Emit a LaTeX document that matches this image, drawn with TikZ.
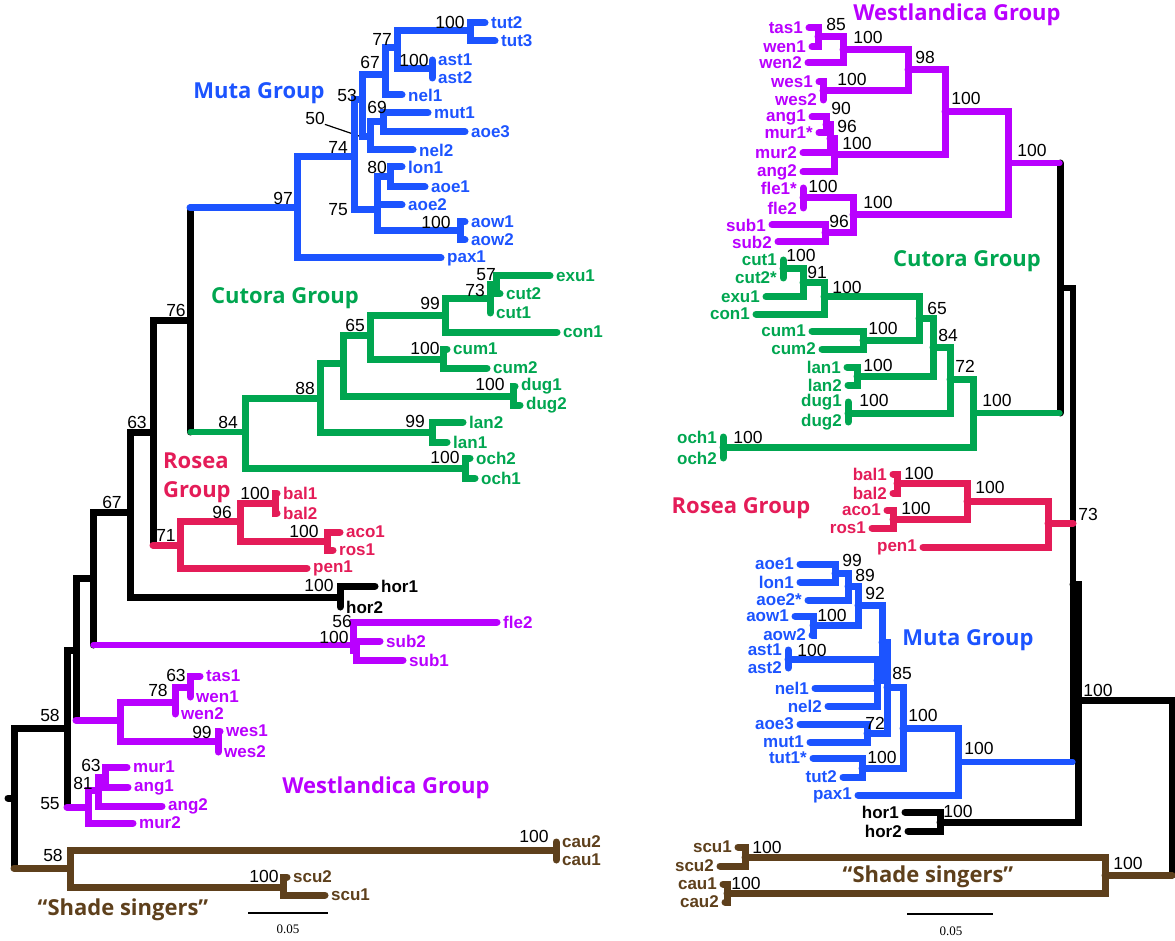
\documentclass[tikz,border=0pt]{standalone}
\usepackage{fontspec}
\setmainfont{Liberation Sans}
\newfontfamily\grpfont{Open Sans}
\newfontfamily\barfont{Liberation Serif}
\usepackage{tikz}
\usetikzlibrary{positioning}
\pgfdeclarelayer{background}
\pgfsetlayers{background,main}
\definecolor{mutablue}{RGB}{28,84,255}
\definecolor{cutgreen}{RGB}{0,166,80}
\definecolor{rosred}{RGB}{228,28,88}
\definecolor{westpurple}{RGB}{185,0,255}
\definecolor{shadebrown}{RGB}{94,64,28}

\begin{document}
\begin{tikzpicture}[
				x=1pt, y=-1pt,
				branch/.style={line width=7pt, line cap=round},
				thinbranch/.style={line width=5.2pt, line cap=round},
				tipname/.style={font=\fontsize{17}{17}\selectfont\bfseries, inner sep=1pt},
				boot/.style={font=\fontsize{17.5}{17.5}\selectfont, inner sep=0pt},
				grouplabel/.style={font=\grpfont\bfseries\fontsize{22}{22}\selectfont, inner sep=0pt},
				barlabel/.style={font=\barfont\fontsize{13}{13}\selectfont, inner sep=0pt},
				]
				\useasboundingbox (0,0) rectangle (1175,941);
				%Nodes - left tree, backbone
				\coordinate (L-root) at (8,798);
				\coordinate (L-n0) at (14,798);
				\coordinate (L-nA) at (67,728);
				\coordinate (L-nB) at (76,650);
				\coordinate (L-nC) at (93,578);
				\coordinate (L-nD) at (130,512);
				\coordinate (L-nE) at (153,432);
				\coordinate (L-nF) at (190,320);
				\node[boot] (L-nA-bs) at (50,715) {58};
				\node[boot] (L-nD-bs) at (112,502) {67};
				\node[boot] (L-nE-bs) at (137,422) {63};
				\node[boot] (L-nF-bs) at (176,310) {76};

				%Nodes - left tree, Muta
				\coordinate (L-m97) at (297,208);
				\coordinate (L-m74) at (354,157);
				\coordinate (L-m53) at (362,100);
				\coordinate (L-m67) at (385,75);
				\coordinate (L-m77) at (397,48);
				\coordinate (L-mtut) at (470,31);
				\coordinate (L-mast) at (432,69);
				\coordinate (L-m50) at (370,137);
				\coordinate (L-m69) at (383,122);
				\coordinate (L-m75) at (377,210);
				\coordinate (L-mlon) at (390,177);
				\coordinate (L-maow) at (460,231);
				\coordinate (L-tut2) at (485,23);
				\coordinate (L-tut3) at (495,41);
				\coordinate (L-ast1) at (432,60);
				\coordinate (L-ast2) at (432,78);
				\coordinate (L-nel1) at (402,95);
				\coordinate (L-mut1) at (428,113);
				\coordinate (L-aoe3) at (465,132);
				\coordinate (L-nel2) at (413,150);
				\coordinate (L-lon1) at (402,167);
				\coordinate (L-aoe1) at (425,187);
				\coordinate (L-aoe2) at (402,205);
				\coordinate (L-aow1) at (465,222);
				\coordinate (L-aow2) at (465,240);
				\coordinate (L-pax1) at (441,258);
				\node[tipname, mutablue, right=5pt of L-tut2] (L-tut2-lab) {tut2};
				\node[tipname, mutablue, right=5pt of L-tut3] (L-tut3-lab) {tut3};
				\node[tipname, mutablue, right=5pt of L-ast1] (L-ast1-lab) {ast1};
				\node[tipname, mutablue, right=5pt of L-ast2] (L-ast2-lab) {ast2};
				\node[tipname, mutablue, right=5pt of L-nel1] (L-nel1-lab) {nel1};
				\node[tipname, mutablue, right=5pt of L-mut1] (L-mut1-lab) {mut1};
				\node[tipname, mutablue, right=5pt of L-aoe3] (L-aoe3-lab) {aoe3};
				\node[tipname, mutablue, right=5pt of L-nel2] (L-nel2-lab) {nel2};
				\node[tipname, mutablue, right=5pt of L-lon1] (L-lon1-lab) {lon1};
				\node[tipname, mutablue, right=5pt of L-aoe1] (L-aoe1-lab) {aoe1};
				\node[tipname, mutablue, right=5pt of L-aoe2] (L-aoe2-lab) {aoe2};
				\node[tipname, mutablue, right=5pt of L-aow1] (L-aow1-lab) {aow1};
				\node[tipname, mutablue, right=5pt of L-aow2] (L-aow2-lab) {aow2};
				\node[tipname, mutablue, right=5pt of L-pax1] (L-pax1-lab) {pax1};
				\node[boot] (L-mtut-bs) at (450,22) {100};
				\node[boot] (L-m77-bs) at (382,39) {77};
				\node[boot] (L-mast-bs) at (414,60) {100};
				\node[boot] (L-m67-bs) at (370,62) {67};
				\node[boot] (L-m53-bs) at (347,95) {53};
				\node[boot] (L-m69-bs) at (377,107) {69};
				\node[boot] (L-m50-bs) at (315,118) {50};
				\node[boot] (L-m74-bs) at (338,147) {74};
				\node[boot] (L-mlon-bs) at (377,167) {80};
				\node[boot] (L-m97-bs) at (283,198) {97};
				\node[boot] (L-m75-bs) at (338,210) {75};
				\node[boot] (L-maow-bs) at (436,222) {100};
				\node[grouplabel, mutablue] (L-muta) at (259,93) {Muta Group};

				%Nodes - left tree, Cutora
				\coordinate (L-c84) at (245,432);
				\coordinate (L-c88) at (320,398);
				\coordinate (L-cN) at (343,363);
				\coordinate (L-c65) at (370,335);
				\coordinate (L-c99) at (445,315);
				\coordinate (L-c73) at (490,299);
				\coordinate (L-c57) at (496,285);
				\coordinate (L-ccum) at (443,359);
				\coordinate (L-cdug) at (513,396);
				\coordinate (L-clan) at (432,432);
				\coordinate (L-coch) at (465,468);
				\coordinate (L-exu1) at (550,276);
				\coordinate (L-cut2) at (500,294);
				\coordinate (L-cut1) at (490,313);
				\coordinate (L-con1) at (557,332);
				\coordinate (L-cum1) at (447,349);
				\coordinate (L-cum2) at (487,368);
				\coordinate (L-dug1) at (515,386);
				\coordinate (L-dug2) at (520,405);
				\coordinate (L-lan2) at (463,422);
				\coordinate (L-lan1) at (447,442);
				\coordinate (L-och2) at (470,458);
				\coordinate (L-och1) at (475,478);
				\node[tipname, cutgreen, right=5pt of L-exu1] (L-exu1-lab) {exu1};
				\node[tipname, cutgreen, right=5pt of L-cut2] (L-cut2-lab) {cut2};
				\node[tipname, cutgreen, right=5pt of L-cut1] (L-cut1-lab) {cut1};
				\node[tipname, cutgreen, right=5pt of L-con1] (L-con1-lab) {con1};
				\node[tipname, cutgreen, right=5pt of L-cum1] (L-cum1-lab) {cum1};
				\node[tipname, cutgreen, right=5pt of L-cum2] (L-cum2-lab) {cum2};
				\node[tipname, cutgreen, right=5pt of L-dug1] (L-dug1-lab) {dug1};
				\node[tipname, cutgreen, right=5pt of L-dug2] (L-dug2-lab) {dug2};
				\node[tipname, cutgreen, right=5pt of L-lan2] (L-lan2-lab) {lan2};
				\node[tipname, cutgreen, right=5pt of L-lan1] (L-lan1-lab) {lan1};
				\node[tipname, cutgreen, right=5pt of L-och2] (L-och2-lab) {och2};
				\node[tipname, cutgreen, right=5pt of L-och1] (L-och1-lab) {och1};
				\node[boot] (L-c84-bs) at (228,422) {84};
				\node[boot] (L-c88-bs) at (305,388) {88};
				\node[boot] (L-c65-bs) at (355,325) {65};
				\node[boot] (L-c99-bs) at (430,303) {99};
				\node[boot] (L-c73-bs) at (475,290) {73};
				\node[boot] (L-c57-bs) at (486,275) {57};
				\node[boot] (L-ccum-bs) at (425,348) {100};
				\node[boot] (L-cdug-bs) at (490,384) {100};
				\node[boot] (L-clan-bs) at (415,421) {99};
				\node[boot] (L-coch-bs) at (445,457) {100};
				\node[grouplabel, cutgreen] (L-cutora) at (285,298) {Cutora Group};

				%Nodes - left tree, Rosea
				\coordinate (L-r71) at (180,545);
				\coordinate (L-r96) at (240,521);
				\coordinate (L-rbal) at (275,503);
				\coordinate (L-raco) at (327,541);
				\coordinate (L-bal1) at (277,493);
				\coordinate (L-bal2) at (277,513);
				\coordinate (L-aco1) at (340,532);
				\coordinate (L-ros1) at (333,550);
				\coordinate (L-pen1) at (307,568);
				\node[tipname, rosred, right=5pt of L-bal1] (L-bal1-lab) {bal1};
				\node[tipname, rosred, right=5pt of L-bal2] (L-bal2-lab) {bal2};
				\node[tipname, rosred, right=5pt of L-aco1] (L-aco1-lab) {aco1};
				\node[tipname, rosred, right=5pt of L-ros1] (L-ros1-lab) {ros1};
				\node[tipname, rosred, right=5pt of L-pen1] (L-pen1-lab) {pen1};
				\node[boot] (L-r71-bs) at (166,535) {71};
				\node[boot] (L-r96-bs) at (222,512) {96};
				\node[boot] (L-rbal-bs) at (255,493) {100};
				\node[boot] (L-raco-bs) at (304,531) {100};
				\node[grouplabel, rosred, anchor=west] (L-rosea1) at (163,461) {Rosea};
				\node[grouplabel, rosred, anchor=west] (L-rosea2) at (163,492) {Group};

				%Nodes - left tree, hor
				\coordinate (L-hor) at (340,597);
				\coordinate (L-hor1) at (375,586);
				\coordinate (L-hor2) at (340,607);
				\node[tipname, right=5pt of L-hor1] (L-hor1-lab) {hor1};
				\node[tipname, right=5pt of L-hor2] (L-hor2-lab) {hor2};
				\node[boot] (L-hor-bs) at (319,585) {100};

				%Nodes - left tree, fle2 and sub
				\coordinate (L-s56) at (353,645);
				\coordinate (L-ssub) at (356,650);
				\coordinate (L-fle2) at (497,622);
				\coordinate (L-sub2) at (380,641);
				\coordinate (L-sub1) at (403,660);
				\node[tipname, westpurple, right=5pt of L-fle2] (L-fle2-lab) {fle2};
				\node[tipname, westpurple, right=5pt of L-sub2] (L-sub2-lab) {sub2};
				\node[tipname, westpurple, right=5pt of L-sub1] (L-sub1-lab) {sub1};
				\node[boot] (L-s56-bs) at (342,621) {56};
				\node[boot] (L-ssub-bs) at (334,637) {100};

				%Nodes - left tree, Westlandica
				\coordinate (L-wN) at (120,720);
				\coordinate (L-w78) at (175,702);
				\coordinate (L-w63) at (190,687);
				\coordinate (L-wwes) at (218,741);
				\coordinate (L-tas1) at (200,676);
				\coordinate (L-wen1) at (190,697);
				\coordinate (L-wen2) at (175,714);
				\coordinate (L-wes1) at (220,731);
				\coordinate (L-wes2) at (218,752);
				\coordinate (L-murN) at (88,807);
				\coordinate (L-m81) at (98,790);
				\coordinate (L-m63) at (105,777);
				\coordinate (L-mur1) at (127,767);
				\coordinate (L-ang1) at (128,787);
				\coordinate (L-ang2) at (162,806);
				\coordinate (L-mur2) at (133,823);
				\node[tipname, westpurple, right=5pt of L-tas1] (L-tas1-lab) {tas1};
				\node[tipname, westpurple, right=5pt of L-wen1] (L-wen1-lab) {wen1};
				\node[tipname, westpurple, right=5pt of L-wen2] (L-wen2-lab) {wen2};
				\node[tipname, westpurple, right=5pt of L-wes1] (L-wes1-lab) {wes1};
				\node[tipname, westpurple, right=5pt of L-wes2] (L-wes2-lab) {wes2};
				\node[tipname, westpurple, right=5pt of L-mur1] (L-mur1-lab) {mur1};
				\node[tipname, westpurple, right=5pt of L-ang1] (L-ang1-lab) {ang1};
				\node[tipname, westpurple, right=5pt of L-ang2] (L-ang2-lab) {ang2};
				\node[tipname, westpurple, right=5pt of L-mur2] (L-mur2-lab) {mur2};
				\node[boot] (L-w78-bs) at (158,690) {78};
				\node[boot] (L-w63-bs) at (176,675) {63};
				\node[boot] (L-wwes-bs) at (202,732) {99};
				\node[boot] (L-murN-bs) at (50,804) {55};
				\node[boot] (L-m81-bs) at (83,783) {81};
				\node[boot] (L-m63-bs) at (91,765) {63};
				\node[grouplabel, westpurple] (L-west) at (386,788) {Westlandica Group};

				%Nodes - left tree, shade singers
				\coordinate (L-brN) at (70,868);
				\coordinate (L-bcau) at (556,850);
				\coordinate (L-bscu) at (283,887);
				\coordinate (L-cau2) at (556,842);
				\coordinate (L-cau1) at (556,860);
				\coordinate (L-scu2) at (287,877);
				\coordinate (L-scu1) at (325,895);
				\node[tipname, shadebrown, right=5pt of L-cau2] (L-cau2-lab) {cau2};
				\node[tipname, shadebrown, right=5pt of L-cau1] (L-cau1-lab) {cau1};
				\node[tipname, shadebrown, right=5pt of L-scu2] (L-scu2-lab) {scu2};
				\node[tipname, shadebrown, right=5pt of L-scu1] (L-scu1-lab) {scu1};
				\node[boot] (L-brN-bs) at (53,855) {58};
				\node[boot] (L-bcau-bs) at (534,836) {100};
				\node[boot] (L-bscu-bs) at (264,876) {100};
				\node[grouplabel, shadebrown] (L-shade) at (123,910) {“Shade singers”};
				\coordinate (L-bar1) at (248,913);
				\coordinate (L-bar2) at (328,913);
				\node[barlabel] (L-bar-lab) at (288,929) {0.05};

				%Nodes - right tree, backbone
				\coordinate (R-n0) at (1172,788);
				\coordinate (R-Q) at (1078,700);
				\coordinate (R-P2) at (1073,584);
				\coordinate (R-P1) at (1073,405);
				\coordinate (R-WC) at (1060,288);
				\node[boot] (R-Q-bs) at (1098,690) {100};
				\node[boot] (R-rosR-bs) at (1088,514) {73};

				%Nodes - right tree, Westlandica
				\coordinate (R-westR) at (1008,163);
				\coordinate (R-w100b) at (945,112);
				\coordinate (R-w98) at (908,70);
				\coordinate (R-w100a) at (843,50);
				\coordinate (R-w85) at (818,37);
				\coordinate (R-wwes) at (823,91);
				\coordinate (R-wam) at (834,155);
				\coordinate (R-w96) at (830,139);
				\coordinate (R-w90) at (826,125);
				\coordinate (R-wfs) at (853,215);
				\coordinate (R-wfle) at (803,198);
				\coordinate (R-wsub) at (825,233);
				\coordinate (R-tas1) at (809,28);
				\coordinate (R-wen1) at (812,47);
				\coordinate (R-wen2) at (808,63);
				\coordinate (R-wes1) at (819,82);
				\coordinate (R-wes2) at (823,100);
				\coordinate (R-ang1) at (812,117);
				\coordinate (R-mur1) at (819,133);
				\coordinate (R-mur2) at (803,153);
				\coordinate (R-ang2) at (803,172);
				\coordinate (R-fle1) at (803,188);
				\coordinate (R-fle2) at (803,208);
				\coordinate (R-sub1) at (772,225);
				\coordinate (R-sub2) at (778,242);
				\node[tipname, westpurple, left=5pt of R-tas1] (R-tas1-lab) {tas1};
				\node[tipname, westpurple, left=5pt of R-wen1] (R-wen1-lab) {wen1};
				\node[tipname, westpurple, left=5pt of R-wen2] (R-wen2-lab) {wen2};
				\node[tipname, westpurple, left=5pt of R-wes1] (R-wes1-lab) {wes1};
				\node[tipname, westpurple, left=5pt of R-wes2] (R-wes2-lab) {wes2};
				\node[tipname, westpurple, left=5pt of R-ang1] (R-ang1-lab) {ang1};
				\node[tipname, westpurple, left=5pt of R-mur1] (R-mur1-lab) {mur1*};
				\node[tipname, westpurple, left=5pt of R-mur2] (R-mur2-lab) {mur2};
				\node[tipname, westpurple, left=5pt of R-ang2] (R-ang2-lab) {ang2};
				\node[tipname, westpurple, left=5pt of R-fle1] (R-fle1-lab) {fle1*};
				\node[tipname, westpurple, left=5pt of R-fle2] (R-fle2-lab) {fle2};
				\node[tipname, westpurple, left=5pt of R-sub1] (R-sub1-lab) {sub1};
				\node[tipname, westpurple, left=5pt of R-sub2] (R-sub2-lab) {sub2};
				\node[boot] (R-w85-bs) at (836,24) {85};
				\node[boot] (R-w100a-bs) at (868,37) {100};
				\node[boot] (R-w98-bs) at (925,57) {98};
				\node[boot] (R-wwes-bs) at (852,79) {100};
				\node[boot] (R-w90-bs) at (841,108) {90};
				\node[boot] (R-w96-bs) at (847,126) {96};
				\node[boot] (R-wam-bs) at (857,143) {100};
				\node[boot] (R-w100b-bs) at (966,98) {100};
				\node[boot] (R-wfle-bs) at (823,186) {100};
				\node[boot] (R-wfs-bs) at (878,202) {100};
				\node[boot] (R-wsub-bs) at (839,221) {96};
				\node[boot] (R-westR-bs) at (1032,150) {100};
				\node[grouplabel, westpurple] (R-west) at (957,15) {Westlandica Group};

				%Nodes - right tree, Cutora
				\coordinate (R-cutR) at (973,413);
				\coordinate (R-c72) at (950,379);
				\coordinate (R-c84) at (933,347);
				\coordinate (R-c65) at (919,318);
				\coordinate (R-c100) at (824,297);
				\coordinate (R-c91) at (803,283);
				\coordinate (R-ccut) at (783,269);
				\coordinate (R-ccum) at (863,340);
				\coordinate (R-clan) at (857,376);
				\coordinate (R-cdug) at (848,413);
				\coordinate (R-coch) at (723,447);
				\coordinate (R-cut1) at (783,260);
				\coordinate (R-cut2) at (783,278);
				\coordinate (R-exu1) at (766,297);
				\coordinate (R-con1) at (756,314);
				\coordinate (R-cum1) at (812,331);
				\coordinate (R-cum2) at (822,349);
				\coordinate (R-lan1) at (847,367);
				\coordinate (R-lan2) at (848,385);
				\coordinate (R-dug1) at (848,402);
				\coordinate (R-dug2) at (848,422);
				\coordinate (R-och1) at (723,437);
				\coordinate (R-och2) at (723,458);
				\node[tipname, cutgreen, left=5pt of R-cut1] (R-cut1-lab) {cut1};
				\node[tipname, cutgreen, left=5pt of R-cut2] (R-cut2-lab) {cut2*};
				\node[tipname, cutgreen, left=5pt of R-exu1] (R-exu1-lab) {exu1};
				\node[tipname, cutgreen, left=5pt of R-con1] (R-con1-lab) {con1};
				\node[tipname, cutgreen, left=5pt of R-cum1] (R-cum1-lab) {cum1};
				\node[tipname, cutgreen, left=5pt of R-cum2] (R-cum2-lab) {cum2};
				\node[tipname, cutgreen, left=5pt of R-lan1] (R-lan1-lab) {lan1};
				\node[tipname, cutgreen, left=5pt of R-lan2] (R-lan2-lab) {lan2};
				\node[tipname, cutgreen, left=5pt of R-dug1] (R-dug1-lab) {dug1};
				\node[tipname, cutgreen, left=5pt of R-dug2] (R-dug2-lab) {dug2};
				\node[tipname, cutgreen, left=5pt of R-och1] (R-och1-lab) {och1};
				\node[tipname, cutgreen, left=5pt of R-och2] (R-och2-lab) {och2};
				\node[boot] (R-ccut-bs) at (801,255) {100};
				\node[boot] (R-c91-bs) at (817,272) {91};
				\node[boot] (R-c100-bs) at (847,287) {100};
				\node[boot] (R-c65-bs) at (937,308) {65};
				\node[boot] (R-ccum-bs) at (883,328) {100};
				\node[boot] (R-c84-bs) at (948,335) {84};
				\node[boot] (R-clan-bs) at (878,365) {100};
				\node[boot] (R-c72-bs) at (965,366) {72};
				\node[boot] (R-cdug-bs) at (874,400) {100};
				\node[boot] (R-cutR-bs) at (997,400) {100};
				\node[boot] (R-coch-bs) at (748,437) {100};
				\node[grouplabel, cutgreen] (R-cutora) at (967,261) {Cutora Group};

				%Nodes - right tree, Rosea
				\coordinate (R-rosR) at (1048,523);
				\coordinate (R-rN) at (967,501);
				\coordinate (R-rbal) at (897,483);
				\coordinate (R-raco) at (893,519);
				\coordinate (R-bal1) at (893,474);
				\coordinate (R-bal2) at (893,493);
				\coordinate (R-aco1) at (887,510);
				\coordinate (R-ros1) at (872,528);
				\coordinate (R-pen1) at (923,547);
				\node[tipname, rosred, left=5pt of R-bal1] (R-bal1-lab) {bal1};
				\node[tipname, rosred, left=5pt of R-bal2] (R-bal2-lab) {bal2};
				\node[tipname, rosred, left=5pt of R-aco1] (R-aco1-lab) {aco1};
				\node[tipname, rosred, left=5pt of R-ros1] (R-ros1-lab) {ros1};
				\node[tipname, rosred, left=5pt of R-pen1] (R-pen1-lab) {pen1};
				\node[boot] (R-rbal-bs) at (919,473) {100};
				\node[boot] (R-raco-bs) at (916,508) {100};
				\node[boot] (R-rN-bs) at (990,487) {100};
				\node[grouplabel, rosred] (R-rosea) at (741,508) {Rosea Group};

				%Nodes - right tree, Muta
				\coordinate (R-muR) at (958,762);
				\coordinate (R-m100a) at (903,728);
				\coordinate (R-mtut) at (862,768);
				\coordinate (R-m85) at (887,687);
				\coordinate (R-mNa) at (882,642);
				\coordinate (R-m72) at (867,733);
				\coordinate (R-m92) at (858,605);
				\coordinate (R-masn) at (877,680);
				\coordinate (R-m89) at (848,586);
				\coordinate (R-maow) at (813,625);
				\coordinate (R-m99) at (835,573);
				\coordinate (R-mast) at (788,659);
				\coordinate (R-aoe1) at (800,564);
				\coordinate (R-lon1) at (800,582);
				\coordinate (R-aoe2) at (808,600);
				\coordinate (R-aow1) at (795,616);
				\coordinate (R-aow2) at (812,635);
				\coordinate (R-ast1) at (788,650);
				\coordinate (R-ast2) at (788,668);
				\coordinate (R-nel1) at (815,688);
				\coordinate (R-nel2) at (828,706);
				\coordinate (R-aoe3) at (800,724);
				\coordinate (R-mut1) at (810,742);
				\coordinate (R-tut1) at (813,758);
				\coordinate (R-tut2) at (843,777);
				\coordinate (R-pax1) at (858,795);
				\node[tipname, mutablue, left=5pt of R-aoe1] (R-aoe1-lab) {aoe1};
				\node[tipname, mutablue, left=5pt of R-lon1] (R-lon1-lab) {lon1};
				\node[tipname, mutablue, left=5pt of R-aoe2] (R-aoe2-lab) {aoe2*};
				\node[tipname, mutablue, left=5pt of R-aow1] (R-aow1-lab) {aow1};
				\node[tipname, mutablue, left=5pt of R-aow2] (R-aow2-lab) {aow2};
				\node[tipname, mutablue, left=5pt of R-ast1] (R-ast1-lab) {ast1};
				\node[tipname, mutablue, left=5pt of R-ast2] (R-ast2-lab) {ast2};
				\node[tipname, mutablue, left=5pt of R-nel1] (R-nel1-lab) {nel1};
				\node[tipname, mutablue, left=5pt of R-nel2] (R-nel2-lab) {nel2};
				\node[tipname, mutablue, left=5pt of R-aoe3] (R-aoe3-lab) {aoe3};
				\node[tipname, mutablue, left=5pt of R-mut1] (R-mut1-lab) {mut1};
				\node[tipname, mutablue, left=5pt of R-tut1] (R-tut1-lab) {tut1*};
				\node[tipname, mutablue, left=5pt of R-tut2] (R-tut2-lab) {tut2};
				\node[tipname, mutablue, left=5pt of R-pax1] (R-pax1-lab) {pax1};
				\node[boot] (R-m99-bs) at (852,560) {99};
				\node[boot] (R-m89-bs) at (865,575) {89};
				\node[boot] (R-m92-bs) at (875,593) {92};
				\node[boot] (R-maow-bs) at (832,615) {100};
				\node[boot] (R-mast-bs) at (812,650) {100};
				\node[boot] (R-m72-bs) at (875,723) {72};
				\node[boot] (R-m85-bs) at (902,673) {85};
				\node[boot] (R-m100a-bs) at (923,715) {100};
				\node[boot] (R-mtut-bs) at (882,757) {100};
				\node[boot] (R-muR-bs) at (979,748) {100};
				\node[grouplabel, mutablue] (R-muta) at (968,640) {Muta Group};

				%Nodes - right tree, hor and shade singers
				\coordinate (R-horR) at (940,822);
				\coordinate (R-hor1) at (905,812);
				\coordinate (R-hor2) at (908,831);
				\node[tipname, left=5pt of R-hor1] (R-hor1-lab) {hor1};
				\node[tipname, left=5pt of R-hor2] (R-hor2-lab) {hor2};
				\node[boot] (R-horR-bs) at (958,811) {100};
				\coordinate (R-brN) at (1105,875);
				\coordinate (R-bscu) at (745,857);
				\coordinate (R-bcau) at (727,893);
				\coordinate (R-scu1) at (738,847);
				\coordinate (R-scu2) at (720,866);
				\coordinate (R-cau1) at (723,884);
				\coordinate (R-cau2) at (725,902);
				\node[tipname, shadebrown, left=5pt of R-scu1] (R-scu1-lab) {scu1};
				\node[tipname, shadebrown, left=5pt of R-scu2] (R-scu2-lab) {scu2};
				\node[tipname, shadebrown, left=5pt of R-cau1] (R-cau1-lab) {cau1};
				\node[tipname, shadebrown, left=5pt of R-cau2] (R-cau2-lab) {cau2};
				\node[boot] (R-bscu-bs) at (767,847) {100};
				\node[boot] (R-bcau-bs) at (746,883) {100};
				\node[boot] (R-brN-bs) at (1128,863) {100};
				\node[grouplabel, shadebrown] (R-shade) at (928,877) {“Shade singers”};
				\coordinate (R-bar1) at (907,914);
				\coordinate (R-bar2) at (993,914);
				\node[barlabel] (R-bar-lab) at (951,931) {0.05};

				\begin{pgfonlayer}{background}
				%Lines - left backbone
				\draw[branch] (L-root) -- (L-n0);
				\draw[branch] (L-n0) |- (L-nA);
				\draw[branch] (L-n0) -- (L-n0 |- L-brN);
				\draw[branch] (L-nA) |- (L-nB);
				\draw[branch] (L-nA) -- (L-nA |- L-murN);
				\draw[branch] (L-nB) |- (L-nC);
				\draw[branch] (L-nB) -- (L-nB |- L-wN);
				\draw[branch] (L-nC) |- (L-nD);
				\draw[branch] (L-nC) -- (L-nC |- L-s56);
				\draw[branch] (L-nD) |- (L-nE);
				\draw[branch] (L-nD) |- (L-hor);
				\draw[branch] (L-nE) |- (L-nF);
				\draw[branch] (L-nE) -- (L-nE |- L-r71);
				\draw[branch] (L-nF) -- (L-nF |- L-m97);
				\draw[branch] (L-nF) -- (L-nF |- L-c84);
				\draw[branch, shadebrown] (L-n0 |- L-brN) -- (L-brN);
				\draw[branch, westpurple] (L-nA |- L-murN) -- (L-murN);
				\draw[branch, westpurple] (L-nB |- L-wN) -- (L-wN);
				\draw[thinbranch, westpurple] (L-nC |- L-s56) -- (L-s56);
				\draw[branch, rosred] (L-nE |- L-r71) -- (L-r71);
				\draw[branch, mutablue] (L-nF |- L-m97) -- (L-m97);
				\draw[thinbranch, cutgreen] (L-nF |- L-c84) -- (L-c84);
				\draw[line width=1.2pt] (L-m50-bs.south east) -- (L-m53 |- L-m50);

				%Lines - left Muta
				\draw[branch, mutablue] (L-m97) |- (L-m74);
				\draw[branch, mutablue] (L-m97) |- (L-pax1);
				\draw[branch, mutablue] (L-m74) |- (L-m53);
				\draw[branch, mutablue] (L-m74) |- (L-m75);
				\draw[branch, mutablue] (L-m53) |- (L-m67);
				\draw[branch, mutablue] (L-m53) |- (L-m50);
				\draw[branch, mutablue] (L-m67) |- (L-m77);
				\draw[branch, mutablue] (L-m67) |- (L-nel1);
				\draw[branch, mutablue] (L-m77) |- (L-mtut);
				\draw[branch, mutablue] (L-m77) |- (L-mast);
				\draw[branch, mutablue] (L-mtut) |- (L-tut2);
				\draw[branch, mutablue] (L-mtut) |- (L-tut3);
				\draw[branch, mutablue] (L-mast) |- (L-ast1);
				\draw[branch, mutablue] (L-mast) |- (L-ast2);
				\draw[branch, mutablue] (L-m50) |- (L-m69);
				\draw[branch, mutablue] (L-m50) |- (L-nel2);
				\draw[branch, mutablue] (L-m69) |- (L-mut1);
				\draw[branch, mutablue] (L-m69) |- (L-aoe3);
				\draw[branch, mutablue] (L-m75) |- (L-mlon);
				\draw[branch, mutablue] (L-m75) |- (L-aoe2);
				\draw[branch, mutablue] (L-m75) |- (L-maow);
				\draw[branch, mutablue] (L-mlon) |- (L-lon1);
				\draw[branch, mutablue] (L-mlon) |- (L-aoe1);
				\draw[branch, mutablue] (L-maow) |- (L-aow1);
				\draw[branch, mutablue] (L-maow) |- (L-aow2);

				%Lines - left Cutora
				\draw[branch, cutgreen] (L-c84) |- (L-c88);
				\draw[branch, cutgreen] (L-c84) |- (L-coch);
				\draw[branch, cutgreen] (L-c88) |- (L-cN);
				\draw[branch, cutgreen] (L-c88) |- (L-clan);
				\draw[branch, cutgreen] (L-cN) |- (L-c65);
				\draw[branch, cutgreen] (L-cN) |- (L-cdug);
				\draw[branch, cutgreen] (L-c65) |- (L-c99);
				\draw[branch, cutgreen] (L-c65) |- (L-ccum);
				\draw[branch, cutgreen] (L-c99) |- (L-c73);
				\draw[branch, cutgreen] (L-c99) |- (L-con1);
				\draw[branch, cutgreen] (L-c73) |- (L-c57);
				\draw[branch, cutgreen] (L-c73) |- (L-cut1);
				\draw[branch, cutgreen] (L-c57) |- (L-exu1);
				\draw[branch, cutgreen] (L-c57) |- (L-cut2);
				\draw[branch, cutgreen] (L-ccum) |- (L-cum1);
				\draw[branch, cutgreen] (L-ccum) |- (L-cum2);
				\draw[branch, cutgreen] (L-cdug) |- (L-dug1);
				\draw[branch, cutgreen] (L-cdug) |- (L-dug2);
				\draw[branch, cutgreen] (L-clan) |- (L-lan2);
				\draw[branch, cutgreen] (L-clan) |- (L-lan1);
				\draw[branch, cutgreen] (L-coch) |- (L-och2);
				\draw[branch, cutgreen] (L-coch) |- (L-och1);

				%Lines - left Rosea, hor, sub
				\draw[branch, rosred] (L-r71) |- (L-r96);
				\draw[branch, rosred] (L-r71) |- (L-pen1);
				\draw[branch, rosred] (L-r96) |- (L-rbal);
				\draw[branch, rosred] (L-r96) |- (L-raco);
				\draw[branch, rosred] (L-rbal) |- (L-bal1);
				\draw[branch, rosred] (L-rbal) |- (L-bal2);
				\draw[branch, rosred] (L-raco) |- (L-aco1);
				\draw[branch, rosred] (L-raco) |- (L-ros1);
				\draw[branch] (L-hor) |- (L-hor1);
				\draw[branch] (L-hor) |- (L-hor2);
				\draw[branch, westpurple] (L-s56) |- (L-fle2);
				\draw[branch, westpurple] (L-s56) |- (L-ssub);
				\draw[branch, westpurple] (L-ssub) |- (L-sub2);
				\draw[branch, westpurple] (L-ssub) |- (L-sub1);

				%Lines - left Westlandica and shade singers
				\draw[branch, westpurple] (L-wN) |- (L-w78);
				\draw[branch, westpurple] (L-wN) |- (L-wwes);
				\draw[branch, westpurple] (L-w78) |- (L-w63);
				\draw[branch, westpurple] (L-w78) |- (L-wen2);
				\draw[branch, westpurple] (L-w63) |- (L-tas1);
				\draw[branch, westpurple] (L-w63) |- (L-wen1);
				\draw[branch, westpurple] (L-wwes) |- (L-wes1);
				\draw[branch, westpurple] (L-wwes) |- (L-wes2);
				\draw[branch, westpurple] (L-murN) |- (L-m81);
				\draw[branch, westpurple] (L-murN) |- (L-mur2);
				\draw[branch, westpurple] (L-m81) |- (L-m63);
				\draw[branch, westpurple] (L-m81) |- (L-ang2);
				\draw[branch, westpurple] (L-m63) |- (L-mur1);
				\draw[branch, westpurple] (L-m63) |- (L-ang1);
				\draw[branch, shadebrown] (L-brN) |- (L-bcau);
				\draw[branch, shadebrown] (L-brN) |- (L-bscu);
				\draw[branch, shadebrown] (L-bcau) |- (L-cau2);
				\draw[branch, shadebrown] (L-bcau) |- (L-cau1);
				\draw[branch, shadebrown] (L-bscu) |- (L-scu2);
				\draw[branch, shadebrown] (L-bscu) |- (L-scu1);
				\draw[line width=2pt] (L-bar1) -- (L-bar2);

				%Lines - right backbone
				\draw[branch] (R-n0) |- (R-Q);
				\draw[branch] (R-n0) -- (R-n0 |- R-brN);
				\draw[branch] (R-Q) |- (R-P2);
				\draw[branch] (R-Q) |- (R-horR);
				\draw[thinbranch] (R-P2) |- (R-P1);
				\draw[thinbranch] (R-P2) -- (R-P2 |- R-muR);
				\draw[thinbranch] (R-P1) |- (R-WC);
				\draw[thinbranch] (R-P1) -- (R-P1 |- R-rosR);
				\draw[branch] (R-WC) -- (R-WC |- R-westR);
				\draw[branch] (R-WC) -- (R-WC |- R-cutR);
				\draw[branch, shadebrown] (R-n0 |- R-brN) -- (R-brN);
				\draw[thinbranch, mutablue] (R-P2 |- R-muR) -- (R-muR);
				\draw[branch, rosred] (R-P1 |- R-rosR) -- (R-rosR);
				\draw[thinbranch, westpurple] (R-WC |- R-westR) -- (R-westR);
				\draw[thinbranch, cutgreen] (R-WC |- R-cutR) -- (R-cutR);

				%Lines - right Westlandica
				\draw[branch, westpurple] (R-westR) |- (R-w100b);
				\draw[branch, westpurple] (R-westR) |- (R-wfs);
				\draw[branch, westpurple] (R-w100b) |- (R-w98);
				\draw[branch, westpurple] (R-w100b) |- (R-wam);
				\draw[branch, westpurple] (R-w98) |- (R-w100a);
				\draw[branch, westpurple] (R-w98) |- (R-wwes);
				\draw[branch, westpurple] (R-w100a) |- (R-w85);
				\draw[branch, westpurple] (R-w100a) |- (R-wen2);
				\draw[branch, westpurple] (R-w85) |- (R-tas1);
				\draw[branch, westpurple] (R-w85) |- (R-wen1);
				\draw[branch, westpurple] (R-wwes) |- (R-wes1);
				\draw[branch, westpurple] (R-wwes) |- (R-wes2);
				\draw[branch, westpurple] (R-wam) |- (R-w96);
				\draw[branch, westpurple] (R-wam) |- (R-ang2);
				\draw[branch, westpurple] (R-w96) |- (R-w90);
				\draw[branch, westpurple] (R-w96) |- (R-mur2);
				\draw[branch, westpurple] (R-w90) |- (R-ang1);
				\draw[branch, westpurple] (R-w90) |- (R-mur1);
				\draw[branch, westpurple] (R-wfs) |- (R-wfle);
				\draw[branch, westpurple] (R-wfs) |- (R-wsub);
				\draw[branch, westpurple] (R-wfle) |- (R-fle1);
				\draw[branch, westpurple] (R-wfle) |- (R-fle2);
				\draw[branch, westpurple] (R-wsub) |- (R-sub1);
				\draw[branch, westpurple] (R-wsub) |- (R-sub2);

				%Lines - right Cutora
				\draw[branch, cutgreen] (R-cutR) |- (R-c72);
				\draw[branch, cutgreen] (R-cutR) |- (R-coch);
				\draw[branch, cutgreen] (R-c72) |- (R-c84);
				\draw[branch, cutgreen] (R-c72) |- (R-cdug);
				\draw[branch, cutgreen] (R-c84) |- (R-c65);
				\draw[branch, cutgreen] (R-c84) |- (R-clan);
				\draw[branch, cutgreen] (R-c65) |- (R-c100);
				\draw[branch, cutgreen] (R-c65) |- (R-ccum);
				\draw[branch, cutgreen] (R-c100) |- (R-c91);
				\draw[branch, cutgreen] (R-c100) |- (R-con1);
				\draw[branch, cutgreen] (R-c91) |- (R-ccut);
				\draw[branch, cutgreen] (R-c91) |- (R-exu1);
				\draw[branch, cutgreen] (R-ccut) |- (R-cut1);
				\draw[branch, cutgreen] (R-ccut) |- (R-cut2);
				\draw[branch, cutgreen] (R-ccum) |- (R-cum1);
				\draw[branch, cutgreen] (R-ccum) |- (R-cum2);
				\draw[branch, cutgreen] (R-clan) |- (R-lan1);
				\draw[branch, cutgreen] (R-clan) |- (R-lan2);
				\draw[branch, cutgreen] (R-cdug) |- (R-dug1);
				\draw[branch, cutgreen] (R-cdug) |- (R-dug2);
				\draw[branch, cutgreen] (R-coch) |- (R-och1);
				\draw[branch, cutgreen] (R-coch) |- (R-och2);

				%Lines - right Rosea
				\draw[branch, rosred] (R-rosR) |- (R-rN);
				\draw[branch, rosred] (R-rosR) |- (R-pen1);
				\draw[branch, rosred] (R-rN) |- (R-rbal);
				\draw[branch, rosred] (R-rN) |- (R-raco);
				\draw[branch, rosred] (R-rbal) |- (R-bal1);
				\draw[branch, rosred] (R-rbal) |- (R-bal2);
				\draw[branch, rosred] (R-raco) |- (R-aco1);
				\draw[branch, rosred] (R-raco) |- (R-ros1);

				%Lines - right Muta
				\draw[branch, mutablue] (R-muR) |- (R-m100a);
				\draw[branch, mutablue] (R-muR) |- (R-pax1);
				\draw[branch, mutablue] (R-m100a) |- (R-m85);
				\draw[branch, mutablue] (R-m100a) |- (R-mtut);
				\draw[branch, mutablue] (R-mtut) |- (R-tut1);
				\draw[branch, mutablue] (R-mtut) |- (R-tut2);
				\draw[branch, mutablue] (R-m85) |- (R-mNa);
				\draw[branch, mutablue] (R-m85) |- (R-m72);
				\draw[branch, mutablue] (R-m72) |- (R-aoe3);
				\draw[branch, mutablue] (R-m72) |- (R-mut1);
				\draw[branch, mutablue] (R-mNa) |- (R-m92);
				\draw[branch, mutablue] (R-mNa) |- (R-masn);
				\draw[branch, mutablue] (R-masn) |- (R-mast);
				\draw[branch, mutablue] (R-masn) |- (R-nel1);
				\draw[branch, mutablue] (R-masn) |- (R-nel2);
				\draw[branch, mutablue] (R-mast) |- (R-ast1);
				\draw[branch, mutablue] (R-mast) |- (R-ast2);
				\draw[branch, mutablue] (R-m92) |- (R-m89);
				\draw[branch, mutablue] (R-m92) |- (R-maow);
				\draw[branch, mutablue] (R-maow) |- (R-aow1);
				\draw[branch, mutablue] (R-maow) |- (R-aow2);
				\draw[branch, mutablue] (R-m89) |- (R-m99);
				\draw[branch, mutablue] (R-m89) |- (R-aoe2);
				\draw[branch, mutablue] (R-m99) |- (R-aoe1);
				\draw[branch, mutablue] (R-m99) |- (R-lon1);

				%Lines - right hor and shade singers
				\draw[branch] (R-horR) |- (R-hor1);
				\draw[branch] (R-horR) |- (R-hor2);
				\draw[branch, shadebrown] (R-brN) |- (R-bscu);
				\draw[branch, shadebrown] (R-brN) |- (R-bcau);
				\draw[branch, shadebrown] (R-bscu) |- (R-scu1);
				\draw[branch, shadebrown] (R-bscu) |- (R-scu2);
				\draw[branch, shadebrown] (R-bcau) |- (R-cau1);
				\draw[branch, shadebrown] (R-bcau) |- (R-cau2);
				\draw[line width=2pt] (R-bar1) -- (R-bar2);
				\end{pgfonlayer}
			\end{tikzpicture}
\end{document}
